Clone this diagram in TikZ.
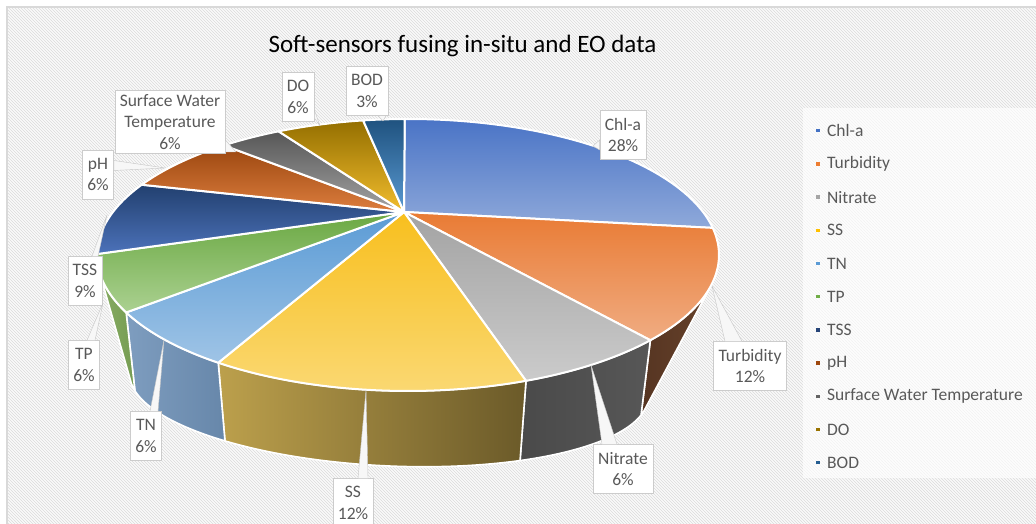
\documentclass[tikz,border=0pt]{standalone}
\usepackage{fontspec}
\setmainfont{Carlito}
\usetikzlibrary{positioning,patterns}

% slice colours (top face: upper / lower shade)
\definecolor{chlT}{HTML}{4A74C6}\definecolor{chlB}{HTML}{8FA9DA}
\definecolor{turT}{HTML}{E97B34}\definecolor{turB}{HTML}{F0AC82}
\definecolor{nitT}{HTML}{A3A3A3}\definecolor{nitB}{HTML}{CBCBCB}
\definecolor{ssT}{HTML}{F8BF1E}\definecolor{ssB}{HTML}{FAD872}
\definecolor{tnT}{HTML}{5B9BD5}\definecolor{tnB}{HTML}{9FC4E6}
\definecolor{tpT}{HTML}{6AA842}\definecolor{tpB}{HTML}{ABD191}
\definecolor{tssT}{HTML}{22406F}\definecolor{tssB}{HTML}{4C72BA}
\definecolor{phT}{HTML}{9A460F}\definecolor{phB}{HTML}{DD7E3E}
\definecolor{swtT}{HTML}{575757}\definecolor{swtB}{HTML}{A3A3A3}
\definecolor{doT}{HTML}{946F00}\definecolor{doB}{HTML}{F2BD2E}
\definecolor{bodT}{HTML}{1F527F}\definecolor{bodB}{HTML}{5A9AD2}
% side walls
\definecolor{turSL}{HTML}{563522}\definecolor{turSR}{HTML}{66412A}
\definecolor{nitSL}{HTML}{4A4A4A}\definecolor{nitSR}{HTML}{575757}
\definecolor{ssSL}{HTML}{BCA04C}\definecolor{ssSR}{HTML}{6B5A29}
\definecolor{tnSL}{HTML}{7E9DBF}\definecolor{tnSR}{HTML}{6787AA}
\definecolor{tpSL}{HTML}{87AC63}\definecolor{tpSR}{HTML}{759C52}
% legend markers
\definecolor{legChl}{HTML}{4472C4}\definecolor{legTur}{HTML}{ED7D31}
\definecolor{legNit}{HTML}{A5A5A5}\definecolor{legSS}{HTML}{FFC000}
\definecolor{legTN}{HTML}{5B9BD5}\definecolor{legTP}{HTML}{70AD47}
\definecolor{legTSS}{HTML}{264478}\definecolor{legPH}{HTML}{9E480E}
\definecolor{legSWT}{HTML}{636363}\definecolor{legDO}{HTML}{997300}
\definecolor{legBOD}{HTML}{255E91}
\definecolor{lbltext}{HTML}{595959}

\begin{document}
\begin{tikzpicture}[x=1pt, y=1pt,
            slice/.style={draw=white, line width=2pt, line join=round},
            sideface/.style={draw=white, line width=1.6pt, line join=round},
            callout/.style={rectangle, draw=gray!40, fill=white, text=lbltext, align=center, inner xsep=5pt, inner ysep=4pt, minimum height=49pt, font=\fontsize{17.5}{21.5}\selectfont},
            pointer/.style={draw=gray!45, fill=gray!6, line join=round},
            legmark/.style={rectangle, inner sep=0pt, minimum size=3.5pt},
            legtext/.style={inner sep=0pt, text=lbltext, font=\fontsize{17.5}{21.5}\selectfont},
            title/.style={font=\fontsize{25}{30}\selectfont, anchor=base}
        ]
            \useasboundingbox (0,0) rectangle (1036,524);

            % Chart area background
            \fill[white] (0,0) rectangle (1036,524);
            \fill[gray!4] (7,0) rectangle (1036,517);
            \fill[pattern=north west lines, pattern color=gray!28] (7,0) rectangle (1036,517);
            \draw[gray!30, line width=1.5pt] (7,0) -- (7,517) -- (1036,517);

            % Legend background
            \fill[white, opacity=0.65] (803,46) rectangle (1036,416);

            % Title
            \node[title] (ttl) at (462.5,471) {Soft-sensors fusing in-situ and EO data};

            % Pie centre
            \coordinate (apex) at (404,312);

            % Side walls: top arc, then the bottom rim back
            \foreach \ta/\tb/\pa/\pb/\ca/\cb in {-13.8/-38.8/-13.3/-9.6/turSL/turSR,
                    -38.8/-67.7/-59.6/-13.3/nitSL/nitSR,
                    -67.7/-127.6/-129.3/-59.6/ssSL/ssSR,
                    -127.6/-155/-168.8/-129.3/tnSL/tnSR,
                    -155/-172.8/-175/-168.8/tpSL/tpSR}
                \path[sideface, left color=\ca, right color=\cb]
                    plot[domain=\ta:\tb, samples=40] ({408+311*cos(\x)},{269+136*sin(\x)})
                    -- plot[domain=\pa:\pb, samples=40] ({389+259*cos(\x)},{138+80*sin(\x)-11*cos(\x)})
                    -- cycle;

            % Top face slices
            \foreach \ta/\tb/\ca/\cb in {11.5/90.6/chlT/chlB, -38.8/11.5/turT/turB,
                    -67.7/-38.8/nitT/nitB, -127.6/-67.7/ssT/ssB, -155/-127.6/tnT/tnB,
                    -180.4/-155/tpT/tpB, 148.9/179.6/tssT/tssB, 126.3/148.9/phT/phB,
                    114.6/126.3/swtT/swtB, 98.3/114.6/doT/doB, 90.6/98.3/bodT/bodB}
                \path[slice, top color=\ca, bottom color=\cb] (apex)
                    -- plot[domain=\ta:\tb, samples=40] ({408+311*cos(\x)},{269+136*sin(\x)})
                    -- cycle;

            % Data labels
            \node[callout] (chl) at (623,389) {Chl-a\\28\%};
            \node[callout] (tur) at (750,158) {Turbidity\\12\%};
            \node[callout] (nit) at (623,55) {Nitrate\\6\%};
            \node[callout] (ss) at (353,21) {SS\\12\%};
            \node[callout] (tn) at (146,88) {TN\\6\%};
            \node[callout] (tp) at (84,159) {TP\\6\%};
            \node[callout] (tss) at (85,243) {TSS\\9\%};
            \node[callout] (ph) at (98,349.5) {pH\\6\%};
            \node[callout] (swt) at (170,402) {Surface Water\\Temperature\\6\%};
            \node[callout] (do) at (298,427) {DO\\6\%};
            \node[callout] (bod) at (367,433) {BOD\\3\%};

            % Label pointers
            \coordinate (chlTip) at (593,378);
            \coordinate (turTip) at (712,238);
            \coordinate (nitTip) at (591,159);
            \coordinate (ssTip) at (366,134);
            \coordinate (tnTip) at (164,184);
            \coordinate (tpTip) at (103,221);
            \coordinate (tssTip) at (107,309);
            \coordinate (phTip) at (165,356);
            \coordinate (swtTip) at (236,372);
            \coordinate (doTip) at (320,398);
            \coordinate (bodTip) at (383,403);
            \draw[pointer] (chlTip) -- ([yshift=-5pt]chl.west) -- ([yshift=-15pt]chl.west) -- cycle;
            \draw[pointer] (turTip) -- ([xshift=-25pt]tur.north) -- ([xshift=-8pt]tur.north) -- cycle;
            \draw[pointer] (nitTip) -- ([xshift=-21pt]nit.north) -- ([xshift=-6pt]nit.north) -- cycle;
            \draw[pointer] (ssTip) -- ([xshift=5pt]ss.north) -- ([xshift=15pt]ss.north) -- cycle;
            \draw[pointer] (tnTip) -- ([xshift=4pt]tn.north) -- ([xshift=12pt]tn.north) -- cycle;
            \draw[pointer] (tpTip) -- ([xshift=3pt]tp.north) -- ([xshift=11pt]tp.north) -- cycle;
            \draw[pointer] (tssTip) -- ([xshift=7pt]tss.north) -- ([xshift=13pt]tss.north) -- cycle;
            \draw[pointer] (phTip) -- ([yshift=14pt]ph.east) -- ([yshift=4pt]ph.east) -- cycle;
            \draw[pointer] (swtTip) -- ([yshift=-18pt]swt.east) -- ([yshift=-30pt]swt.east) -- cycle;
            \draw[pointer] (doTip) -- ([yshift=-13pt]do.east) -- ([yshift=-21pt]do.east) -- cycle;
            \draw[pointer] (bodTip) -- ([xshift=11pt]bod.south) -- ([xshift=19pt]bod.south) -- cycle;

            % Legend
            \foreach \name/\col [count=\i from 0] in {Chl-a/legChl, Turbidity/legTur, Nitrate/legNit,
                    SS/legSS, TN/legTN, TP/legTP, TSS/legTSS, pH/legPH,
                    Surface Water Temperature/legSWT, DO/legDO, BOD/legBOD} {
                \node[legmark, fill=\col] (m\i) at (818,{393.3-33.2*\i}) {};
                \node[legtext, right=7pt of m\i] (l\i) {\name};
            }

        \end{tikzpicture}
\end{document}
